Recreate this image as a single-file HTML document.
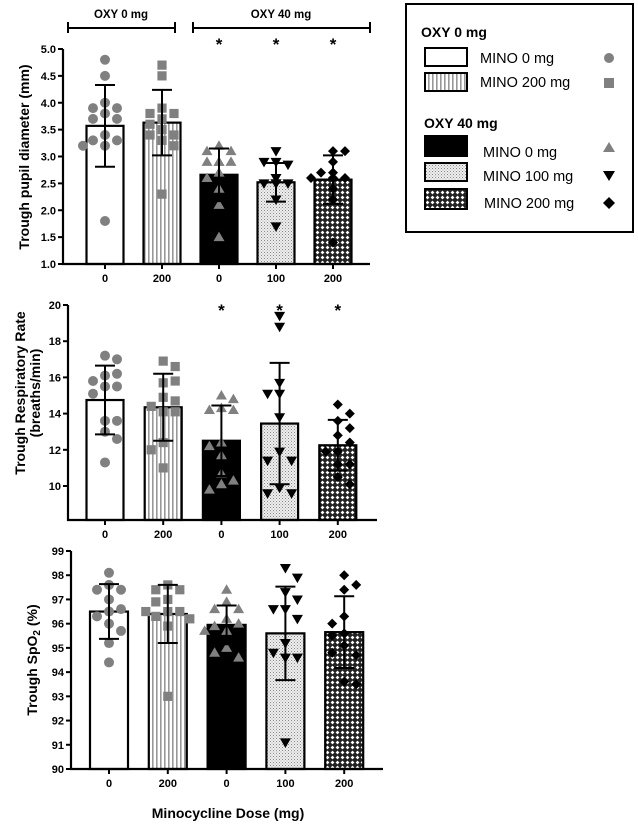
<!DOCTYPE html>
<html><head><meta charset="utf-8"><style>
body{margin:0;background:#fff;position:relative;width:638px;height:825px;overflow:hidden}
svg{display:block;font-family:"Liberation Sans",Arial,sans-serif;}
</style></head><body>
<svg id="chart" width="638" height="825" viewBox="0 0 638 825">
<defs>
<pattern id="pStripe" width="4" height="4" patternUnits="userSpaceOnUse"><rect width="4" height="4" fill="#fff"/><rect x="0" width="1.6" height="4" fill="#999"/></pattern>
<pattern id="pDots" width="3" height="3" patternUnits="userSpaceOnUse"><rect width="3" height="3" fill="#eee"/><rect x="0" y="0" width="1" height="1" fill="#888"/><rect x="1.5" y="1.5" width="1" height="1" fill="#aaa"/></pattern>
<pattern id="pCross" width="5" height="5" patternUnits="userSpaceOnUse"><rect width="5" height="5" fill="#222"/><path d="M2.5 0.6 L4.4 2.5 L2.5 4.4 L0.6 2.5Z" fill="#fff"/></pattern>
</defs>
</svg>
<script>
// ---- data ----
const categories = ["0","200","0","100","200"];
const pupilMeans = [3.57,3.63,2.66,2.52,2.57];
const pupilSD = [0.76,0.61,0.49,0.36,0.45];
const pupilPoints = [
 [4.8,4.5,4.0,3.9,3.9,3.8,3.7,3.7,3.4,3.3,3.3,3.2,3.2,1.8],
 [4.7,4.5,3.9,3.8,3.8,3.7,3.6,3.5,3.4,3.4,3.3,3.2,2.3],
 [3.2,3.1,3.1,2.9,2.9,2.9,2.9,2.7,2.6,2.4,2.1,1.5],
 [3.1,2.9,2.9,2.85,2.6,2.5,2.5,2.5,2.5,2.2,1.7],
 [3.1,3.1,2.9,2.7,2.7,2.6,2.6,2.6,2.6,2.4,2.2,1.4]];
const pupilTicks = [1.0,1.5,2.0,2.5,3.0,3.5,4.0,4.5,5.0];
const respMeans = [14.75,14.35,12.5,13.45,12.25];
const respSD = [1.9,1.85,1.95,3.35,1.4];
const respPoints = [
 [17.2,17.0,16.1,16.2,15.8,15.5,15.5,15.1,13.6,13.6,13.0,12.6,11.3],
 [16.9,16.6,15.7,15.8,14.9,14.7,14.4,14.1,14.1,12.4,12.0,11.0],
 [15.0,14.8,14.3,14.2,14.2,12.4,12.2,11.7,10.7,10.3,10.1,9.8],
 [19.4,18.8,15.7,15.1,15.1,13.8,11.9,11.4,11.4,9.9,9.6,9.6],
 [14.5,14.0,13.6,13.2,12.8,12.4,11.9,11.9,11.2,11.2,10.5,10.1]];
const respTicks = [10,12,14,16,18,20];
const spoMeans = [96.5,96.4,95.95,95.6,95.65];
const spoSD = [1.13,1.2,0.8,1.93,1.48];
const spoPoints = [
 [98.1,97.6,97.4,97.4,97.0,96.6,96.5,96.3,96.0,95.7,95.2,94.4],
 [97.6,97.4,97.4,97.0,96.9,96.5,96.5,96.5,96.3,96.2,95.9,93.0],
 [97.4,96.9,96.6,96.6,96.2,96.0,95.9,95.7,95.7,95.0,94.8,94.6],
 [98.3,97.9,97.3,97.0,96.6,96.6,96.2,95.2,94.8,94.6,94.6,91.1],
 [98.0,97.6,97.4,96.3,96.0,95.6,95.5,95.1,94.8,94.7,93.6,93.5]];
const spoTicks = [90,91,92,93,94,95,96,97,98,99];
const starFlags = [[0,0,1,1,1],[0,0,1,1,1],[0,0,0,0,0]];

// ---- drawing ----
const svg = document.getElementById('chart');
const NS = 'http://www.w3.org/2000/svg';
function mk(tag, attrs, parent){const e=document.createElementNS(NS,tag);for(const k in attrs)e.setAttribute(k,attrs[k]);(parent||svg).appendChild(e);return e;}
const fills=['#fff','url(#pStripe)','#000','url(#pDots)','url(#pCross)'];
const markers=['circle','square','tri','itri','diamond'];
const mcol=['#808080','#808080','#808080','#000','#000'];

function marker(type,x,y,col,g){
  let e;
  if(type==='circle') e=mk('circle',{cx:x,cy:y,r:5,fill:col},g);
  else if(type==='square') e=mk('rect',{x:x-4.6,y:y-4.6,width:9.2,height:9.2,fill:col},g);
  else if(type==='tri') e=mk('path',{d:`M${x} ${y-5.5}L${x+5.5} ${y+4}L${x-5.5} ${y+4}Z`,fill:col},g);
  else if(type==='itri') e=mk('path',{d:`M${x} ${y+5.5}L${x+5.5} ${y-4}L${x-5.5} ${y-4}Z`,fill:col},g);
  else e=mk('path',{d:`M${x} ${y-5}L${x+5} ${y}L${x} ${y+5}L${x-5} ${y}Z`,fill:col},g);
  return e;
}

function panel(cfg){
  const g=mk('g',{});
  
  
  const y=v=>cfg.y0+(v-cfg.vmin)/(cfg.vmax-cfg.vmin)*(cfg.y1-cfg.y0);
  const xc=i=>cfg.x0+i*cfg.step;
  cfg.means.forEach((m,i)=>{
    const b=mk('rect',{x:xc(i)-cfg.bw/2,y:y(m),width:cfg.bw,height:cfg.yb-y(m),fill:fills[i],stroke:'#000','stroke-width':2.2},g);
    
    
  });
  cfg.points.forEach((arr,i)=>{
    const placed=[];
    arr.forEach((v,k)=>{
      const py=y(v);
      const offs=k%2?[0,12,-12,22,-22,6,-6,17,-17]:[0,-12,12,-22,22,-6,6,-17,17];
      let ox=0;
      for(const o of offs){if(placed.every(p=>Math.hypot(p[0]-o,p[1]-py)>=10.5)){ox=o;break;}}
      placed.push([ox,py]);
      const m=marker(markers[i],xc(i)+ox,py,mcol[i],g);
      
      
    });
  });
  cfg.means.forEach((m,i)=>{
    const t=y(m+cfg.sd[i]),bo=y(m-cfg.sd[i]),x=xc(i);
    const e=mk('path',{d:`M${x} ${t}V${bo}M${x-10} ${t}H${x+10}M${x-10} ${bo}H${x+10}`,stroke:'#000','stroke-width':2,fill:'none'},g);
    
    
  });
  const ax=mk('path',{d:`M${cfg.ax} ${cfg.y1}V${cfg.yb}H${cfg.xend}`,stroke:'#000','stroke-width':2.2,fill:'none'},g);
  
  
  cfg.ticks.forEach(t=>{
    mk('line',{x1:cfg.ax-5,x2:cfg.ax,y1:y(t),y2:y(t),stroke:'#000','stroke-width':2},g);
    const tl=mk('text',{x:cfg.ax-7,y:y(t)+4,'text-anchor':'end','font-size':11,'font-weight':'bold'},g);
    tl.textContent=cfg.fmt(t);
    
    
  });
  categories.forEach((c,i)=>{
    mk('line',{x1:xc(i),x2:xc(i),y1:cfg.yb,y2:cfg.yb+5,stroke:'#000','stroke-width':2},g);
    const tl=mk('text',{x:xc(i),y:cfg.yb+18,'text-anchor':'middle','font-size':11,'font-weight':'bold'},g);
    tl.textContent=c;
    
    
  });
  cfg.stars.forEach((s,i)=>{ if(s){
    const st=mk('text',{x:xc(i),y:cfg.starY,'text-anchor':'middle','font-size':17,'font-weight':'bold'},g);
    st.textContent='*';
    
    
  }});
  return g;
}

panel({name:'pupil-panel',short:'pupil',means:pupilMeans,sd:pupilSD,points:pupilPoints,ticks:pupilTicks,vmin:1,vmax:5,y0:264,y1:49,yb:264,ax:63,xend:370,x0:105,step:57,bw:37,fmt:t=>t.toFixed(1),stars:starFlags[0],starY:50});
panel({name:'respiratory-panel',short:'resp',means:respMeans,sd:respSD,points:respPoints,ticks:respTicks,vmin:10,vmax:20,y0:486,y1:305,yb:520,ax:68,xend:377,x0:105,step:58.2,bw:37,fmt:t=>String(t),stars:starFlags[1],starY:316});
panel({name:'spo2-panel',short:'spo2',means:spoMeans,sd:spoSD,points:spoPoints,ticks:spoTicks,vmin:90,vmax:99,y0:769,y1:551,yb:769,ax:71,xend:383,x0:109,step:58.8,bw:38,fmt:t=>String(t),stars:starFlags[2],starY:0});
</script>
<svg width="638" height="825" style="position:absolute;left:0;top:0">
  <g stroke="#000" stroke-width="2">
    <path d="M68 22V33M68 28H175M175 22V33" fill="none"/>
    <path d="M193 22V33M193 28H370M370 22V33" fill="none"/>
  </g>
  <text x="121" y="18" text-anchor="middle" font-size="11.5" font-weight="bold">OXY 0 mg</text>
  <text x="281" y="18" text-anchor="middle" font-size="11.5" font-weight="bold">OXY 40 mg</text>
  <text transform="translate(29,157) rotate(-90)" text-anchor="middle" font-size="14" font-weight="bold">Trough pupil diameter (mm)</text>
  <text transform="translate(25,393) rotate(-90)" text-anchor="middle" font-size="14" font-weight="bold">Trough Respiratory Rate</text>
  <text transform="translate(40,393) rotate(-90)" text-anchor="middle" font-size="14" font-weight="bold">(breaths/min)</text>
  <text transform="translate(37,660) rotate(-90)" text-anchor="middle" font-size="14" font-weight="bold">Trough SpO<tspan font-size="10" dy="3">2</tspan><tspan dy="-3"> (%)</tspan></text>
  <text x="228" y="818" text-anchor="middle" font-size="14" font-weight="bold">Minocycline Dose (mg)</text>
  <g>
    <rect x="406" y="4" width="227" height="228" fill="#fff" stroke="#000" stroke-width="2"/>
    <text x="421" y="37" font-size="14" font-weight="bold">OXY 0 mg</text>
    <rect x="425" y="48" width="42" height="18" fill="#fff" stroke="#000" stroke-width="2"/>
    <text x="480" y="63" font-size="14.5">MINO 0 mg</text>
    <circle cx="609" cy="58" r="5" fill="#808080"/>
    <rect x="425" y="73" width="42" height="18" fill="url(#pStripe)" stroke="#000" stroke-width="2"/>
    <text x="480" y="87" font-size="14.5">MINO 200 mg</text>
    <rect x="604" y="78" width="10" height="10" fill="#808080"/>
    <text x="424" y="128" font-size="14" font-weight="bold">OXY 40 mg</text>
    <rect x="425" y="136" width="42" height="20" fill="#000" stroke="#000" stroke-width="2"/>
    <text x="483" y="157" font-size="14.5">MINO 0 mg</text>
    <path d="M609 142L615 152L603 152Z" fill="#808080"/>
    <rect x="425" y="163" width="42" height="18" fill="url(#pDots)" stroke="#000" stroke-width="2"/>
    <text x="483" y="181" font-size="14.5">MINO 100 mg</text>
    <path d="M609 181L615 171L603 171Z" fill="#000"/>
    <rect x="425" y="189" width="42" height="20" fill="url(#pCross)" stroke="#000" stroke-width="2"/>
    <text x="484" y="208" font-size="14.5">MINO 200 mg</text>
    <path d="M609 197L615 203L609 209L603 203Z" fill="#000"/>
  </g>
</svg>
</body></html>
